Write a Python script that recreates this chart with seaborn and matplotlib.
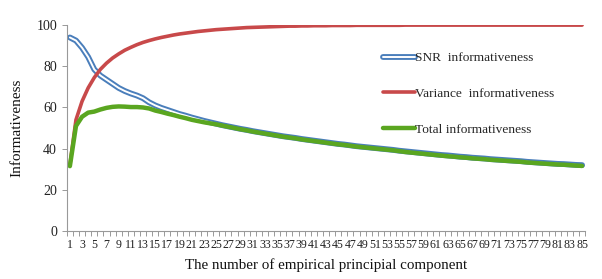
import numpy as np
import pandas as pd
import matplotlib
matplotlib.use("Agg")
import matplotlib.pyplot as plt
import matplotlib.patheffects as pe
import seaborn as sns

components = list(range(1, 86))

snr = [94.0, 92.5, 89.0, 84.5, 78.5, 75.5, 73.5, 71.5, 69.5, 68.0,
       66.8, 65.8, 64.5, 62.5, 61.0, 59.8, 58.8, 57.8, 56.8, 56.0,
       55.1, 54.3, 53.5, 52.8, 52.1, 51.4, 50.8, 50.2, 49.6, 49.1,
       48.5, 48.0, 47.5, 47.0, 46.5, 46.0, 45.6, 45.2, 44.7, 44.3,
       43.9, 43.5, 43.1, 42.7, 42.3, 42.0, 41.6, 41.2, 40.9, 40.6,
       40.3, 40.0, 39.7, 39.4, 39.0,
       38.7, 38.4, 38.1, 37.8, 37.5, 37.2, 36.9, 36.7, 36.4, 36.1,
       35.9, 35.6, 35.4, 35.2, 34.9, 34.7, 34.5, 34.3, 34.1, 33.9,
       33.6, 33.4, 33.2, 33.0, 32.8, 32.6, 32.5, 32.3, 32.1, 32.0]

variance = [32.0, 54.0, 63.0, 69.5, 74.5, 78.5, 81.5, 84.0, 86.0, 87.8,
            89.2, 90.5, 91.6, 92.5, 93.3, 94.0, 94.6, 95.2, 95.7, 96.1,
            96.5, 96.9, 97.2, 97.5, 97.8, 98.0, 98.2, 98.4, 98.6, 98.8,
            98.9, 99.0, 99.1, 99.2, 99.3, 99.4, 99.5, 99.5, 99.6, 99.6,
            99.7, 99.7, 99.7, 99.8, 99.8, 99.8, 99.8, 99.9, 99.9, 99.9,
            99.9, 99.9, 99.9, 99.9, 99.9,
            100, 100, 100, 100, 100, 100, 100, 100, 100, 100,
            100, 100, 100, 100, 100, 100, 100, 100, 100, 100,
            100, 100, 100, 100, 100, 100, 100, 100, 100, 100]

total = [31.5, 51.0, 55.5, 57.5, 58.0, 59.0, 59.8, 60.3, 60.5, 60.4,
         60.2, 60.2, 60.0, 59.5, 58.5, 57.8, 57.0, 56.3, 55.5, 54.8,
         54.0, 53.4, 52.8, 52.3, 51.8, 51.2, 50.6, 50.0, 49.4, 48.9,
         48.3, 47.8, 47.3, 46.8, 46.3, 45.8, 45.4, 45.0, 44.5, 44.1,
         43.7, 43.3, 42.9, 42.5, 42.1, 41.8, 41.4, 41.0, 40.7, 40.4,
         40.1, 39.8, 39.5, 39.2, 38.8,
         38.4, 38.1, 37.8, 37.5, 37.2, 36.9, 36.6, 36.3, 36.1, 35.8,
         35.6, 35.3, 35.1, 34.9, 34.6, 34.4, 34.2, 34.0, 33.8, 33.6,
         33.3, 33.1, 32.9, 32.7, 32.5, 32.3, 32.2, 32.0, 31.8, 31.6]

sns.set_style("white")
plt.rcParams['font.family'] = ['Liberation Serif', 'DejaVu Serif']

fig = plt.figure(figsize=(6.02, 2.79), dpi=100)
ax = fig.add_axes([0.111, 0.172, 0.861, 0.738])

blue = '#4A7EBB'
red = '#C8494A'
green = '#5AA620'

sns.lineplot(x=components, y=snr, ax=ax, color='white', linewidth=1.4,
             label='SNR  informativeness',
             path_effects=[pe.Stroke(linewidth=4.2, foreground=blue), pe.Normal()])
sns.lineplot(x=components, y=variance, ax=ax, color=red, linewidth=2.6,
             label='Variance  informativeness')
sns.lineplot(x=components, y=total, ax=ax, color=green, linewidth=3.2,
             label='Total informativeness')

ax.set_xlim(0.5, 85.5)
ax.set_ylim(0, 100)
ax.set_yticks([0, 20, 40, 60, 80, 100])
ax.set_xticks(components[::2])
ax.set_xticklabels([str(c) for c in components[::2]])
ax.set_xticks(np.arange(0.5, 86, 1), minor=True)
ax.tick_params(axis='x', which='major', length=0, labelsize=8.6, pad=6, colors='#222222')
ax.tick_params(axis='x', which='minor', length=3.5, width=0.7, color='#999999', direction='out', bottom=True)
ax.tick_params(axis='y', length=3.5, width=0.7, color='#999999', labelsize=10, labelcolor='#222222', left=True)

for s in ['top', 'right']:
    ax.spines[s].set_visible(False)
for s in ['left', 'bottom']:
    ax.spines[s].set_color('#999999')
    ax.spines[s].set_linewidth(0.8)

ax.set_xlabel('The number of empirical principial component', fontsize=10.8, labelpad=5, color='#111111')
ax.set_ylabel('Informativeness', fontsize=11, labelpad=9, color='#111111')

ax.legend(loc='upper left', bbox_to_anchor=(0.6, 0.895), frameon=False, fontsize=9.6,
          handlelength=2.4, handletextpad=0.0, labelspacing=1.75, borderaxespad=0)

fig.savefig('out.png', dpi=100)
